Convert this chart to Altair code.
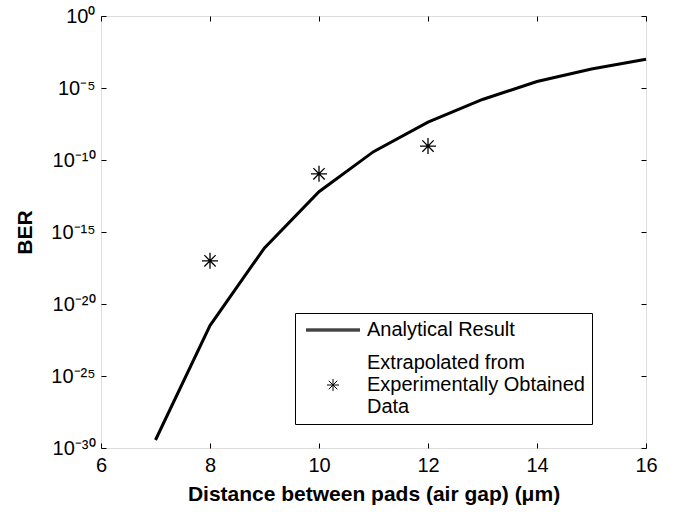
import altair as alt
import pandas as pd

# ---- data ----
gap_line = [7, 8, 9, 10, 11, 12, 13, 14, 15, 16]
ber_line = [3.6e-30, 3.2e-22, 7.9e-17, 6.3e-13, 3.8e-10, 4.2e-8, 1.6e-6, 2.8e-5, 2.1e-4, 9.8e-4]
gap_exp = [8, 10, 12]
ber_exp = [1.0e-17, 1.1e-11, 9.3e-10]
series_names = ["Analytical Result", "Extrapolated from\nExperimentally Obtained\nData"]
x_ticks = [6, 8, 10, 12, 14, 16]
y_ticks = [1, 1e-5, 1e-10, 1e-15, 1e-20, 1e-25, 1e-30]
y_tick_labels = ["10⁰", "10⁻⁵", "10⁻¹⁰", "10⁻¹⁵", "10⁻²⁰", "10⁻²⁵", "10⁻³⁰"]
x_title = "Distance between pads (air gap) (μm)"
y_title = "BER"

FONT = "Liberation Sans"

df_line = pd.DataFrame({"gap": gap_line, "ber": ber_line, "series": series_names[0]})
df_exp = pd.DataFrame({"gap": gap_exp, "ber": ber_exp, "series": series_names[1]})

xs = alt.Scale(domain=[6, 16], nice=False, zero=False)
ys = alt.Scale(type="log", domain=[1e-30, 1], nice=False)

y_label_expr = "[" + ",".join("'%s'" % s for s in y_tick_labels) + "][indexof([" + \
    ",".join(repr(v) for v in y_ticks) + "], datum.value)]"

common = dict(grid=False, domain=False, offset=-5, tickSize=5, tickColor="black",
              tickWidth=1, labelFlush=False, labelOverlap=False, labelBound=False)

x_bottom = alt.Axis(values=x_ticks, format="d", title=x_title, labelPadding=7,
                    labelFontSize=20, labelFont=FONT, labelColor="black",
                    titleFontSize=21, titleFont=FONT, titleFontWeight="bold",
                    titleColor="black", titlePadding=8, **common)
y_left = alt.Axis(values=y_ticks, labelExpr=y_label_expr, title=y_title, labelPadding=6,
                  labelFontSize=20, labelFont=FONT, labelColor="black",
                  titleFontSize=21, titleFont=FONT, titleFontWeight="bold",
                  titleColor="black", titlePadding=15, **common)
x_top = alt.Axis(values=x_ticks, orient="top", labels=False, title=None, **common)
y_right = alt.Axis(values=y_ticks, orient="right", labels=False, title=None, **common)

# legend / marker symbols (unit path coordinates)
line_path = "M-4.5,-0.17H4.5M-4.5,0H4.5M-4.5,0.17H4.5"
D = 3.667  # star drawn one text line lower so it sits beside the middle label line
star_path = ("M-1,{a}H1M0,{b}V{c}M-0.707,{d}L0.707,{e}M-0.707,{e}L0.707,{d}"
             .format(a=D, b=D - 1, c=D + 1, d=D - 0.707, e=D + 0.707))

line = alt.Chart(df_line).mark_line(color="black", strokeWidth=3).encode(
    x=alt.X("gap:Q", scale=xs, axis=x_bottom),
    y=alt.Y("ber:Q", scale=ys, axis=y_left),
)

pts = alt.Chart(df_exp).mark_point(
    filled=False, stroke="black", strokeWidth=1.3, opacity=1, size=256,
    yOffset=-D * 8,
).encode(
    x=alt.X("gap:Q", scale=xs, axis=x_top),
    y=alt.Y("ber:Q", scale=ys, axis=y_right),
    shape=alt.Shape(
        "series:N",
        scale=alt.Scale(domain=series_names, range=[line_path, star_path]),
        legend=alt.Legend(
            orient="none", legendX=194, legendY=297, title=None,
            padding=7, strokeColor="black", fillColor="white", cornerRadius=0,
            symbolSize=144, symbolStrokeWidth=1, symbolOffset=21,
            symbolStrokeColor="black", symbolOpacity=1,
            labelFontSize=20, labelFont=FONT, labelColor="black",
            labelOffset=24, labelLimit=400, rowPadding=13,
            labelExpr="split(datum.label, '\\n')",
        ),
    ),
)

chart = alt.layer(line, pts).resolve_axis(x="independent", y="independent").properties(
    width=545, height=432,
    padding={"left": 101, "top": 16, "right": 38, "bottom": 64},
    autosize=alt.AutoSizeParams(type="none"),
).configure_view(stroke="black", strokeWidth=1).configure(font=FONT, background="white")

chart.save("out.html", embed_options={"renderer": "svg", "actions": False})
